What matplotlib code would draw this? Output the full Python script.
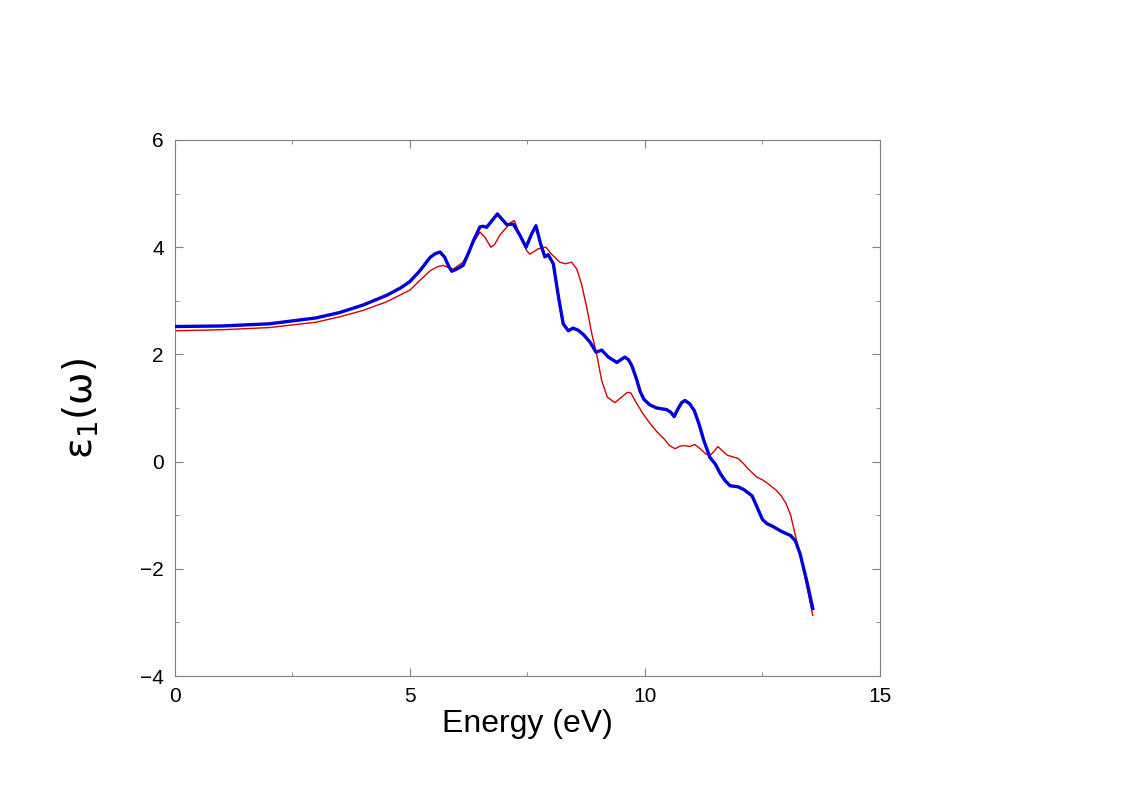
import matplotlib
matplotlib.use("Agg")
import matplotlib.pyplot as plt
from matplotlib.ticker import MultipleLocator

plt.rcParams['font.family'] = ['Liberation Sans', 'DejaVu Sans']
plt.rcParams['mathtext.fontset'] = 'dejavusans'

blue_E = [0, 1, 2, 3, 3.5, 4, 4.5, 4.8, 5.0, 5.21, 5.43, 5.54, 5.64, 5.74, 5.82, 5.89, 5.99,
          6.13, 6.25, 6.35, 6.49, 6.56, 6.63, 6.75, 6.86, 6.96, 7.06, 7.2, 7.34, 7.47, 7.59,
          7.68, 7.78, 7.87, 7.94, 8.05, 8.16, 8.26, 8.37, 8.47, 8.58, 8.69, 8.83, 8.96, 9.08,
          9.22, 9.4, 9.57, 9.65, 9.72, 9.82, 9.9, 9.98, 10.1, 10.25, 10.46, 10.55, 10.62, 10.7,
          10.78, 10.85, 10.95, 11.05, 11.15, 11.25, 11.38, 11.5, 11.6, 11.7, 11.81, 11.98,
          12.1, 12.28, 12.4, 12.5, 12.6, 12.7, 12.8, 12.9, 13.0, 13.1, 13.2, 13.3, 13.44, 13.57]
blue_v = [2.52, 2.53, 2.57, 2.68, 2.78, 2.92, 3.1, 3.24, 3.36, 3.56, 3.81, 3.88, 3.91, 3.81,
          3.65, 3.55, 3.59, 3.66, 3.9, 4.12, 4.38, 4.39, 4.37, 4.5, 4.62, 4.52, 4.42, 4.43,
          4.22, 4.0, 4.25, 4.40, 4.06, 3.82, 3.86, 3.69, 3.07, 2.57, 2.44, 2.49, 2.45, 2.37,
          2.23, 2.04, 2.08, 1.95, 1.85, 1.95, 1.9, 1.79, 1.54, 1.3, 1.16, 1.06, 1.0, 0.97, 0.92,
          0.84, 0.98, 1.1, 1.14, 1.08, 0.95, 0.7, 0.4, 0.08, -0.05, -0.22, -0.35, -0.45, -0.47,
          -0.52, -0.64, -0.88, -1.08, -1.16, -1.2, -1.25, -1.3, -1.34, -1.38, -1.48, -1.72,
          -2.22, -2.74]

red_E = [0, 1, 2, 3, 3.5, 4, 4.5, 5.0, 5.21, 5.43, 5.6, 5.71, 5.82, 5.92, 6.13, 6.35, 6.49,
         6.6, 6.72, 6.8, 6.91, 7.13, 7.22, 7.34, 7.48, 7.55, 7.73, 7.89, 8.01, 8.19, 8.3, 8.44,
         8.55, 8.65, 8.76, 8.87, 8.97, 9.08, 9.2, 9.36, 9.5, 9.62, 9.7, 9.8, 9.96, 10.1, 10.25,
         10.4, 10.52, 10.64, 10.75, 10.85, 10.95, 11.06, 11.2, 11.3, 11.38, 11.48, 11.55,
         11.65, 11.75, 11.9, 11.98, 12.1, 12.2, 12.38, 12.5, 12.6, 12.8, 12.9, 13.0, 13.1,
         13.19, 13.36, 13.57]
red_v = [2.44, 2.46, 2.5, 2.6, 2.7, 2.82, 2.98, 3.2, 3.38, 3.56, 3.64, 3.66, 3.62, 3.59, 3.72,
         4.09, 4.28, 4.18, 4.0, 4.05, 4.22, 4.45, 4.5, 4.22, 3.94, 3.87, 3.97, 4.0, 3.87, 3.72,
         3.69, 3.72, 3.59, 3.31, 2.88, 2.38, 2.01, 1.51, 1.2, 1.10, 1.2, 1.29, 1.28, 1.12, 0.89,
         0.72, 0.56, 0.43, 0.3, 0.24, 0.29, 0.30, 0.28, 0.32, 0.22, 0.14, 0.11, 0.2, 0.28, 0.2,
         0.12, 0.08, 0.06, -0.04, -0.14, -0.29, -0.34, -0.4, -0.54, -0.64, -0.78, -1.0, -1.34,
         -1.97, -2.87]

x_ticks = [0, 5, 10, 15]
y_ticks = [-4, -2, 0, 2, 4, 6]

fig = plt.figure(figsize=(11.23, 7.93), dpi=100)
ax = fig.add_axes([0.1558, 0.1475, 0.6278, 0.676])
ax.plot(red_E, red_v, color='#d00000', lw=1.0, zorder=2, solid_joinstyle='round')
ax.plot(blue_E, blue_v, color='#0000d8', lw=2.4, zorder=3, solid_joinstyle='round')

ax.set_xlim(0, 15)
ax.set_ylim(-4, 6)
ax.set_xticks(x_ticks)
ax.set_yticks(y_ticks)
ax.xaxis.set_minor_locator(MultipleLocator(2.5))
ax.yaxis.set_minor_locator(MultipleLocator(1))
ax.tick_params(which='both', direction='in', top=True, right=True, color='#808080',
               labelsize=15, pad=8)
ax.tick_params(which='major', length=6)
ax.tick_params(which='minor', length=3)
for s in ax.spines.values():
    s.set_color('#808080')
    s.set_linewidth(0.8)

ax.set_xlabel('Energy (eV)', fontsize=23, labelpad=2)
ax.set_ylabel(r'$\mathrm{\varepsilon}_{\mathrm{1}}\mathrm{(\omega)}$', fontsize=28)
ax.yaxis.set_label_coords(-0.105, 0.5)

fig.savefig('out.png', dpi=100)
